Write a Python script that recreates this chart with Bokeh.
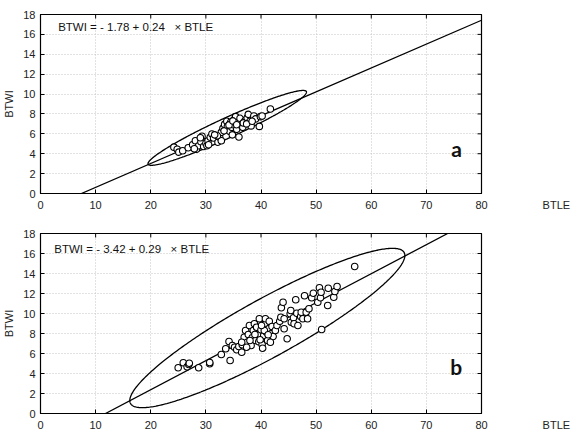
import numpy as np
from bokeh.plotting import figure
from bokeh.layouts import column
from bokeh.models import Range1d, Label, FixedTicker
from bokeh.embed import file_html
from bokeh.resources import INLINE

# ---------------- data ----------------
X_TICKS = [0, 10, 20, 30, 40, 50, 60, 70, 80]
Y_TICKS = [0, 2, 4, 6, 8, 10, 12, 14, 16, 18]

# panel a
A_BTLE = [24.2, 24.8, 25.1, 25.8, 26.8, 27.6, 28.1, 28.3, 28.7, 29.1, 29.3, 29.6, 30.0, 30.2, 30.4,
          30.8, 31.1, 31.4, 32.2, 32.5, 32.8, 32.8, 33.1, 33.4, 33.8, 33.9, 34.3, 34.5, 34.7, 34.8,
          35.0, 35.2, 35.4, 35.6, 35.9, 36.0, 36.2, 36.5, 36.7, 37.1, 37.5, 37.7, 38.0, 38.2, 38.7,
          39.0, 39.7, 39.9, 40.2, 41.7, 33.3, 34.2, 34.9, 35.6, 36.8, 37.4, 38.4, 32.1, 31.6, 30.5,
          29.0, 27.9]
A_BTWI = [4.66, 4.45, 4.16, 4.3, 4.6, 4.9, 5.3, 4.45, 4.8, 5.2, 5.75, 4.72, 5.06, 4.8, 5.3,
          5.65, 5.98, 5.58, 5.16, 5.65, 5.3, 6.15, 6.55, 6.95, 7.26, 6.72, 6.25, 7.16, 6.65, 5.9,
          6.92, 7.46, 7.73, 6.45, 7.16, 5.68, 7.56, 6.8, 6.65, 7.32, 7.6, 7.96, 7.26, 6.8, 7.8,
          7.5, 6.75, 7.73, 7.8, 8.5, 6.3, 6.9, 7.3, 6.92, 7.1, 7.0, 7.26, 5.8, 5.9, 4.9,
          5.6, 4.5]
A_COEF = [-1.78, 0.24]                 # intercept, slope
A_ELLIPSE = [33.875, 6.6, 14.375, 3.6, 1.1]   # cx, cy, ux, uy, vertical half-thickness

# panel b
B_BTLE = [24.98, 25.9, 26.6, 26.9, 27.0, 28.7, 30.7, 30.7, 32.8, 33.6, 34.2, 34.4, 34.8, 35.2, 35.6,
          35.98, 36.5, 36.6, 36.95, 37.2, 37.5, 37.7, 37.9, 38.2, 38.4, 38.6, 38.8, 39.0, 39.2, 39.4,
          39.6, 39.7, 40.0, 40.2, 40.3, 40.5, 40.7, 40.8, 41.0, 41.2, 41.4, 41.5, 41.8, 42.0, 42.2,
          42.6, 42.9, 43.4, 43.7, 43.6, 44.0, 44.2, 44.2, 44.75, 45.3, 45.4, 45.5, 45.9, 46.0, 46.3,
          46.5, 46.7, 47.2, 47.3, 47.6, 47.9, 48.2, 48.45, 48.7, 49.2, 49.5, 50.3, 50.6, 50.8, 50.9,
          51.0, 52.2, 52.1, 53.2, 53.4, 53.8, 57.0, 38.0, 38.9, 39.85, 40.6, 41.3, 41.7, 36.5, 37.4,
          40.1]
B_BTWI = [4.57, 5.07, 4.67, 4.9, 5.03, 4.57, 4.97, 5.1, 5.9, 6.47, 7.2, 5.3, 6.8, 6.63, 6.37,
          6.7, 6.13, 6.87, 7.63, 8.3, 7.13, 7.9, 8.8, 6.8, 7.57, 8.3, 8.97, 7.3, 8.63, 7.9,
          7.17, 9.47, 8.37, 6.9, 6.53, 7.8, 8.97, 9.47, 8.13, 7.3, 8.47, 9.23, 7.97, 8.7, 7.7,
          8.3, 8.8, 9.23, 10.57, 9.63, 11.13, 9.47, 8.47, 7.47, 9.97, 10.3, 9.13, 9.57, 8.97, 11.37,
          10.03, 8.8, 9.7, 10.13, 9.47, 11.77, 10.13, 9.47, 10.47, 11.57, 12.03, 11.13, 12.57, 11.57, 12.13,
          8.4, 12.53, 10.8, 11.63, 12.2, 12.7, 14.7, 7.3, 7.9, 7.37, 8.3, 7.87, 7.13, 7.13, 6.63,
          8.8]
B_COEF = [-3.42, 0.29]
B_ELLIPSE = [41.15, 8.55, 24.95, 7.25, 3.3]

A_EQ = "BTWI = - 1.78 + 0.24\u00a0\u00a0\u00a0\u00d7 BTLE"
B_EQ = "BTWI = - 3.42 + 0.29\u00a0\u00a0\u00a0\u00d7 BTLE"
X_NAME = "BTLE"
Y_NAME = "BTWI"

FONT = "Liberation Sans"
X_MIN, X_MAX, Y_MIN, Y_MAX = 0, 80, 0, 18


def make_panel(xs, ys, coef, ell, eq_text, eq_pos, letter, letter_pos,
               frame_h, b_top, b_bottom):
    p = figure(frame_width=441, frame_height=frame_h,
               x_range=Range1d(X_MIN, X_MAX), y_range=Range1d(Y_MIN, Y_MAX),
               output_backend="svg", toolbar_location=None,
               min_border_left=40, min_border_right=90,
               min_border_top=b_top, min_border_bottom=b_bottom)
    p.background_fill_color = "white"
    p.border_fill_color = "white"
    p.outline_line_color = "black"
    p.outline_line_width = 1.2

    for ax in (p.xaxis[0], p.yaxis[0]):
        ax.major_label_text_font = FONT
        ax.major_label_text_font_size = "11px"
        ax.major_label_text_color = "#222222"
        ax.axis_line_color = "black"
        ax.major_tick_in = 4
        ax.major_tick_out = 0
        ax.minor_tick_line_color = None
    p.xaxis[0].major_label_standoff = 5
    p.xaxis[0].ticker = FixedTicker(ticks=X_TICKS)
    p.yaxis[0].ticker = FixedTicker(ticks=Y_TICKS)
    p.yaxis[0].axis_label = Y_NAME
    p.yaxis[0].axis_label_text_font = FONT
    p.yaxis[0].axis_label_text_font_size = "11px"
    p.yaxis[0].axis_label_text_font_style = "normal"
    p.yaxis[0].axis_label_text_color = "#222222"
    p.yaxis[0].axis_label_standoff = 5
    p.yaxis[0].major_label_standoff = 5

    # x-axis name written beside the last tick label, as in the reference
    gap = "\u00a0" * 18
    pad = "\u00a0" * 27
    p.xaxis[0].major_label_overrides = {X_MAX: pad + str(X_MAX) + gap + X_NAME}

    p.xgrid.ticker = FixedTicker(ticks=X_TICKS)
    p.ygrid.ticker = FixedTicker(ticks=Y_TICKS)
    for g in (p.xgrid[0], p.ygrid[0]):
        g.grid_line_color = "#c4c4c4"
        g.grid_line_dash = "1 2"
        g.grid_line_width = 1

    # inward tick marks on the top and right edges of the frame
    p.scatter(X_TICKS, [Y_MAX] * len(X_TICKS), marker="dash", angle=np.pi / 2, size=8,
              line_color="black", line_width=1)
    p.scatter([X_MAX] * len(Y_TICKS), Y_TICKS, marker="dash", size=8,
              line_color="black", line_width=1)

    # regression line
    a, b = coef
    x0 = (Y_MIN - a) / b
    x1 = min(X_MAX, (Y_MAX - a) / b)
    lx = np.array([x0, x1])
    p.line(lx, a + b * lx, line_color="black", line_width=1.3)

    # ellipse
    cx, cy, ux, uy, h = ell
    t = np.linspace(0, 2 * np.pi, 361)
    p.line(cx + ux * np.cos(t), cy + uy * np.cos(t) + h * np.sin(t),
           line_color="black", line_width=1.3)

    # points
    p.scatter(xs, ys, marker="circle", size=6.5, fill_color="white", fill_alpha=1.0,
              line_color="black", line_width=1.1)

    p.add_layout(Label(x=eq_pos[0], y=eq_pos[1], text=eq_text, text_font=FONT,
                       text_font_size="11.5px", text_color="#111111",
                       text_baseline="middle", text_align="left"))
    p.add_layout(Label(x=letter_pos[0], y=letter_pos[1], text=letter, text_font="Lato",
                       text_font_size="21px", text_font_style="bold", text_color="#111111",
                       text_baseline="middle", text_align="center"))
    return p


p1 = make_panel(A_BTLE, A_BTWI, A_COEF, A_ELLIPSE, A_EQ, (3.2, 16.7), "a", (75.5, 4.5),
                frame_h=179, b_top=14, b_bottom=24)
p2 = make_panel(B_BTLE, B_BTWI, B_COEF, B_ELLIPSE, B_EQ, (2.5, 16.5), "b", (75.4, 4.7),
                frame_h=180, b_top=16, b_bottom=20)

layout = column(p1, p2, spacing=0)
open("out.html", "w").write(file_html(layout, INLINE))
